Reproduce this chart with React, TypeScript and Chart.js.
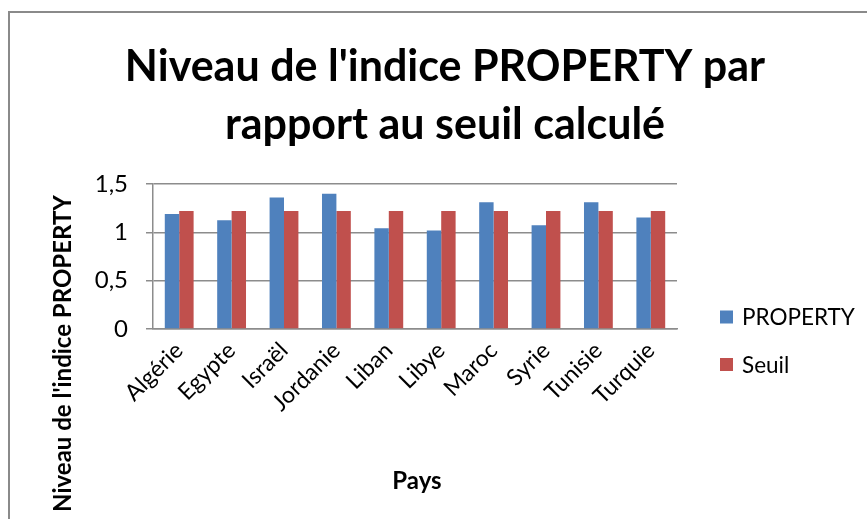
import React, { useEffect, useRef } from "react";
import { Chart, registerables } from "chart.js";

Chart.register(...registerables);

const categories = ["Algérie", "Egypte", "Israël", "Jordanie", "Liban", "Libye", "Maroc", "Syrie", "Tunisie", "Turquie"];
const propertyValues = [1.19, 1.126, 1.36, 1.40, 1.043, 1.02, 1.31, 1.074, 1.31, 1.153];
const seuilValues = [1.22, 1.22, 1.22, 1.22, 1.22, 1.22, 1.22, 1.22, 1.22, 1.22];
const titleLines = ["Niveau de l'indice PROPERTY par", "rapport au seuil calculé"];
const yTitle = "Niveau de l'indice PROPERTY";
const xTitle = "Pays";
const seriesNames = ["PROPERTY", "Seuil"];
const seriesColors = ["#4F81BD", "#C0504D"];

const FONT = "Lato, 'Open Sans', sans-serif";

const decorPlugin = {
  id: "decor",
  afterDraw(chart: any) {
    const ctx = chart.ctx;
    const ca = chart.chartArea;
    ctx.save();
    ctx.fillStyle = "#000";
    ctx.textAlign = "center";
    ctx.textBaseline = "middle";
    ctx.font = `bold 43px ${FONT}`;
    ctx.fillText(titleLines[0], 445, 67);
    ctx.fillText(titleLines[1], 445, 125);

    // y axis title
    ctx.font = `bold 24px ${FONT}`;
    ctx.save();
    ctx.translate(63, (ca.top + chart.height) / 2 + 2);
    ctx.rotate(-Math.PI / 2);
    ctx.fillText(yTitle, 0, 0);
    ctx.restore();

    // x axis title
    ctx.fillText(xTitle, (ca.left + ca.right) / 2 + 2, 481);

    // legend
    ctx.textAlign = "left";
    ctx.font = `22.5px ${FONT}`;
    chart.data.datasets.forEach((ds: any, i: number) => {
      const y = 317 + i * 47.5;
      ctx.fillStyle = ds.backgroundColor;
      ctx.fillRect(720, y - 6.5, 13, 13);
      ctx.fillStyle = "#000";
      ctx.fillText(ds.label, 742, y + 1);
    });
    ctx.restore();
  },
};

export default function App() {
  const ref = useRef<HTMLCanvasElement>(null);
  useEffect(() => {
    document.body.style.margin = "0";
    const chart = new Chart(ref.current as HTMLCanvasElement, {
      type: "bar",
      data: {
        labels: categories,
        datasets: [
          { label: seriesNames[0], data: propertyValues, backgroundColor: seriesColors[0], categoryPercentage: 0.55, barPercentage: 1 },
          { label: seriesNames[1], data: seuilValues, backgroundColor: seriesColors[1], categoryPercentage: 0.55, barPercentage: 1 },
        ],
      },
      options: {
        animation: false,
        responsive: false,
        maintainAspectRatio: false,
        layout: { padding: { left: 73, right: 190, top: 184, bottom: 60 } },
        plugins: { legend: { display: false }, title: { display: false }, tooltip: { enabled: false } },
        scales: {
          x: {
            grid: { display: false, drawTicks: false },
            border: { display: true, color: "#8C8C8C", width: 1.5 },
            ticks: { color: "#000", font: { family: FONT, size: 23 }, minRotation: 45, maxRotation: 45, padding: 8 },
            afterFit(scale: any) { scale.height = 130; },
          },
          y: {
            min: 0,
            max: 1.5,
            ticks: {
              stepSize: 0.5,
              color: "#000",
              padding: 18,
              font: { family: FONT, size: 24 },
              callback: (v: any) => String(v).replace(".", ","),
            },
            grid: { color: "#8C8C8C", lineWidth: 1.5, tickLength: 7 },
            border: { display: true, color: "#8C8C8C", width: 1.5 },
            afterFit(scale: any) { scale.width = 80; },
          },
        },
      },
      plugins: [decorPlugin],
    });
    return () => chart.destroy();
  }, []);
  return (
    <div style={{ position: "relative", width: 867, height: 519, background: "#fff", overflow: "hidden" }}>
      <div style={{ position: "absolute", left: 8, top: 11, width: 900, height: 600, borderTop: "2px solid #8A8A8A", borderLeft: "2px solid #8A8A8A" }} />
      <canvas ref={ref} width={867} height={519} style={{ position: "absolute", left: 0, top: 0 }} />
    </div>
  );
}
